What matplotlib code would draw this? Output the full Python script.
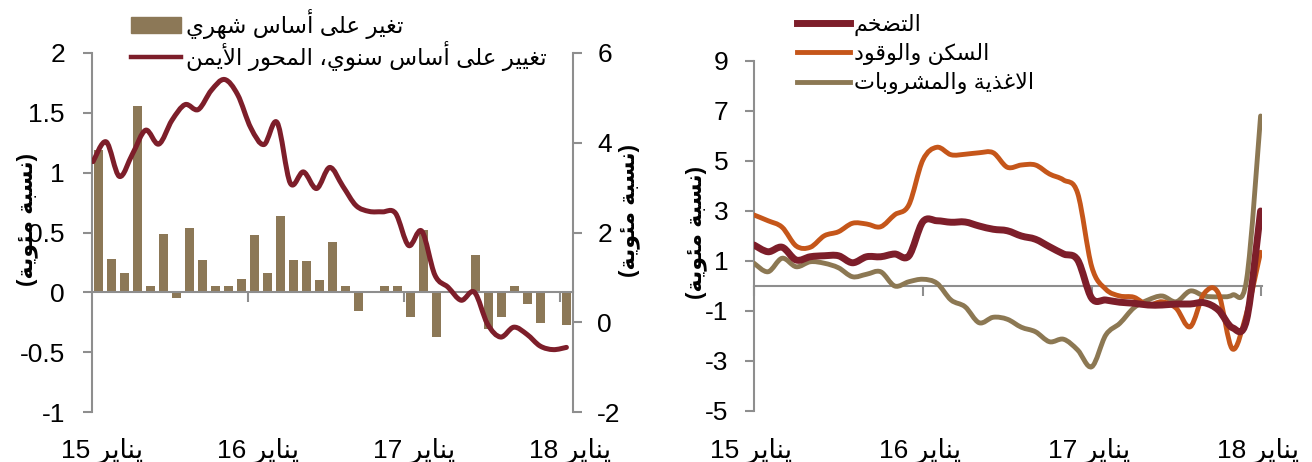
import re
import numpy as np
import matplotlib
matplotlib.use("Agg")
import matplotlib.pyplot as plt
from matplotlib.path import Path
from matplotlib.patches import PathPatch
from matplotlib.lines import Line2D

plt.rcParams["font.family"] = ["Liberation Sans", "DejaVu Sans"]
plt.rcParams["axes.unicode_minus"] = False

# ---- data -------------------------------------------------------------
# monthly CPI, Jan 2015 .. Jan 2018
mom_change = [1.19, 0.28, 0.16, 1.56, 0.05, 0.49, -0.05, 0.54, 0.27, 0.05, 0.05, 0.11,
              0.48, 0.16, 0.64, 0.27, 0.26, 0.10, 0.42, 0.05, -0.16, 0.0, 0.05, 0.05,
              -0.21, 0.52, -0.37, 0.0, 0.0, 0.31, -0.31, -0.21, 0.05, -0.10, -0.26, 0.0,
              -0.27]
yoy_change = [3.58, 4.02, 3.25, 3.75, 4.28, 3.97, 4.50, 4.85, 4.74, 5.17, 5.41, 5.07,
              4.33, 3.96, 4.45, 3.10, 3.35, 2.98, 3.45, 3.03, 2.60, 2.47, 2.46, 2.43,
              1.71, 2.03, 1.05, 0.78, 0.49, 0.67, -0.04, -0.33, -0.11, -0.27, -0.53, -0.61,
              -0.56]

inflation = [1.64, 1.37, 1.55, 1.04, 1.17, 1.21, 1.21, 0.93, 1.17, 1.17, 1.28, 1.20,
             2.57, 2.61, 2.55, 2.56, 2.40, 2.27, 2.21, 2.00, 1.87, 1.57, 1.28, 1.04,
             -0.49, -0.56, -0.65, -0.69, -0.76, -0.76, -0.72, -0.72, -0.67, -0.96, -1.67, -1.36,
             3.00]
housing = [2.84, 2.61, 2.35, 1.60, 1.55, 2.01, 2.17, 2.51, 2.48, 2.37, 2.85, 3.24,
           5.04, 5.55, 5.25, 5.27, 5.33, 5.33, 4.75, 4.84, 4.84, 4.48, 4.24, 3.71,
           0.77, -0.13, -0.40, -0.45, -0.76, -0.63, -0.89, -1.63, -0.29, -0.29, -2.52, -1.09,
           1.35]
food = [0.91, 0.57, 1.11, 0.77, 0.97, 0.91, 0.73, 0.37, 0.47, 0.57, 0.00, 0.17,
        0.27, 0.11, -0.56, -0.83, -1.47, -1.25, -1.33, -1.65, -1.83, -2.23, -2.13, -2.56,
        -3.23, -1.96, -1.49, -0.87, -0.56, -0.40, -0.63, -0.20, -0.40, -0.43, -0.36, 0.24,
        6.80]

year_labels = ["يناير 15", "يناير 16", "يناير 17", "يناير 18"]
year_ticks = [0, 12, 24, 36]
left_ticks = [-1, -0.5, 0, 0.5, 1, 1.5, 2]
right_ticks = [-2, 0, 2, 4, 6]
cpi_ticks = [-5, -3, -1, 1, 3, 5, 7, 9]

label_mom = "تغير على أساس شهري"
label_yoy = "تغيير على أساس سنوي، المحور الأيمن"
label_infl = "التضخم"
label_house = "السكن والوقود"
label_food = "الاغذية والمشروبات"
unit_label = "(نسبة مئوية)"

BAR = "#8C7857"
RED = "#7D1E2A"
ORANGE = "#C5561A"
TAN = "#8C7853"
GRID = "#8E8E8E"


# ---- minimal arabic shaping (matplotlib has no complex text layout) ---
def _four(start):
    return tuple(chr(start + k) for k in range(4))


def _two(start):
    return (chr(start), chr(start + 1))


FORMS = {
    "ء": ("\uFE80",), "آ": _two(0xFE81), "أ": _two(0xFE83), "ؤ": _two(0xFE85),
    "إ": _two(0xFE87), "ئ": _four(0xFE89), "ا": _two(0xFE8D), "ب": _four(0xFE8F),
    "ة": _two(0xFE93), "ت": _four(0xFE95), "ث": _four(0xFE99), "ج": _four(0xFE9D),
    "ح": _four(0xFEA1), "خ": _four(0xFEA5), "د": _two(0xFEA9), "ذ": _two(0xFEAB),
    "ر": _two(0xFEAD), "ز": _two(0xFEAF), "س": _four(0xFEB1), "ش": _four(0xFEB5),
    "ص": _four(0xFEB9), "ض": _four(0xFEBD), "ط": _four(0xFEC1), "ظ": _four(0xFEC5),
    "ع": _four(0xFEC9), "غ": _four(0xFECD), "ف": _four(0xFED1), "ق": _four(0xFED5),
    "ك": _four(0xFED9), "ل": _four(0xFEDD), "م": _four(0xFEE1), "ن": _four(0xFEE5),
    "ه": _four(0xFEE9), "و": _two(0xFEED), "ى": _two(0xFEEF), "ي": _four(0xFEF1),
}
LAM_ALEF = {"آ": _two(0xFEF5), "أ": _two(0xFEF7), "إ": _two(0xFEF9), "ا": _two(0xFEFB)}


def _dual(c):
    return c in FORMS and len(FORMS[c]) == 4


def shape(text):
    out, prev, i, n = [], None, 0, len(text)
    while i < n:
        c = text[i]
        if c not in FORMS:
            out.append(c)
            prev = None
            i += 1
            continue
        link_prev = prev is not None and _dual(prev)
        if c == "ل" and i + 1 < n and text[i + 1] in LAM_ALEF:
            out.append(LAM_ALEF[text[i + 1]][1 if link_prev else 0])
            prev = "ا"
            i += 2
            continue
        nxt = text[i + 1] if i + 1 < n else None
        link_next = _dual(c) and nxt in FORMS
        f = FORMS[c]
        if link_prev and link_next:
            g = f[3]
        elif link_prev:
            g = f[1] if len(f) > 1 else f[0]
        elif link_next:
            g = f[2]
        else:
            g = f[0]
        out.append(g)
        prev = c
        i += 1
    return "".join(out)


def ar(text):
    vis = shape(text)[::-1].translate(str.maketrans("()", ")("))
    return re.sub(r"[0-9.]+", lambda m: m.group(0)[::-1], vis)


def smooth_line(ax, x, y, color, lw, z=3):
    # catmull-rom through the points, drawn as cubic bezier segments
    pts = np.column_stack([x, y]).astype(float)
    ext = np.vstack([pts[0], pts, pts[-1]])
    verts = [pts[0]]
    for k in range(len(pts) - 1):
        p0, p1, p2, p3 = ext[k], ext[k + 1], ext[k + 2], ext[k + 3]
        verts += [p1 + (p2 - p0) / 6.0, p2 - (p3 - p1) / 6.0, p2]
    codes = [Path.MOVETO] + [Path.CURVE4] * (3 * (len(pts) - 1))
    ax.add_patch(PathPatch(Path(verts, codes), fill=False, edgecolor=color, lw=lw,
                           capstyle="round", joinstyle="round", zorder=z))


def style_axis(ax, sides):
    for s in ["top", "right", "left", "bottom"]:
        ax.spines[s].set_visible(s in sides)
        ax.spines[s].set_color(GRID)
        ax.spines[s].set_linewidth(1.5)
    ax.tick_params(colors="black", labelsize=19, width=1.5, length=6.5)
    ax.tick_params(axis="both", color=GRID)


W, H = 1312, 462
fig = plt.figure(figsize=(W / 100, H / 100), dpi=100)

# ---- left panel: monthly bars + yoy line ------------------------------
ax = fig.add_axes([92 / W, 50 / H, 481 / W, 359 / H])
idx = np.arange(len(mom_change))
ax.bar(idx, mom_change, width=0.68, color=BAR, zorder=1)
ax.set_xlim(-0.5, 36.5)
ax.set_ylim(-1, 2)
ax.set_yticks(left_ticks)
ax.set_yticklabels([f"{t:g}" for t in left_ticks])
style_axis(ax, ["left", "bottom"])
ax.spines["bottom"].set_position(("data", 0))
ax.set_xticks([11.5, 23.5, 35.5])
ax.set_xticklabels([])
ax.tick_params(axis="x", length=7)
ax.tick_params(axis="y", pad=13)
for t, lab in zip(year_ticks, year_labels):
    ax.text(t + 0.3, -0.128, ar(lab), transform=ax.get_xaxis_transform(),
            ha="center", va="baseline", fontsize=19)
ax.set_ylabel(ar(unit_label), fontsize=16, fontweight="bold")
ax.yaxis.set_label_coords(-0.112, 0.535)

ax2 = ax.twinx()
ax2.set_ylim(-2, 6)
ax2.set_yticks(right_ticks)
ax2.set_yticklabels([f"{t:g}" for t in right_ticks])
style_axis(ax2, ["right"])
ax2.tick_params(axis="y", pad=11)
# the yoy series spans the full plot width on the secondary axis
line_x = idx * 1.0115 - 0.42
smooth_line(ax2, line_x, yoy_change, RED, 3.6)
ax2.set_ylabel(ar(unit_label), fontsize=16, fontweight="bold", rotation=90)
ax2.yaxis.set_label_coords(1.094, 0.56)

handles = [plt.Rectangle((0, 0), 1, 1, color=BAR), Line2D([], [], color=RED, lw=3.2)]
fig.legend(handles, [ar(label_mom), ar(label_yoy)], loc="upper left",
           bbox_to_anchor=(131 / W, 1 - 9 / H), frameon=False, fontsize=16.5,
           handlelength=2.2, handletextpad=0.2, labelspacing=0.1,
           borderpad=0, borderaxespad=0)

# ---- right panel: CPI components --------------------------------------
bx = fig.add_axes([754 / W, 51 / H, 508 / W, 350 / H])
bx.set_xlim(0, 36.1)
bx.set_ylim(-5, 9)
bx.set_yticks(cpi_ticks)
bx.set_yticklabels([f"{t:g}" for t in cpi_ticks])
style_axis(bx, ["left", "bottom"])
bx.spines["bottom"].set_position(("data", 0))
bx.set_xticks(year_ticks)
bx.set_xticklabels([])
bx.tick_params(axis="x", length=7)
bx.tick_params(axis="y", pad=12)
months = np.arange(len(inflation))
smooth_line(bx, months, food, TAN, 3.5, z=3)
smooth_line(bx, months, housing, ORANGE, 3.5, z=4)
smooth_line(bx, months, inflation, RED, 5.0, z=5)
for t, lab in zip(year_ticks, year_labels):
    bx.text(t - 0.2, -0.134, ar(lab), transform=bx.get_xaxis_transform(),
            ha="center", va="baseline", fontsize=19)
bx.set_ylabel(ar(unit_label), fontsize=16, fontweight="bold")
bx.yaxis.set_label_coords(-0.093, 0.509)

handles = [Line2D([], [], color=RED, lw=5.0),
           Line2D([], [], color=ORANGE, lw=3.5),
           Line2D([], [], color=TAN, lw=3.5)]
fig.legend(handles, [ar(label_infl), ar(label_house), ar(label_food)], loc="upper left",
           bbox_to_anchor=(797 / W, 1 - 14 / H), frameon=False, fontsize=16,
           handlelength=2.4, handletextpad=0.15, labelspacing=0.32,
           borderpad=0, borderaxespad=0)

fig.savefig("out.png", dpi=100)
